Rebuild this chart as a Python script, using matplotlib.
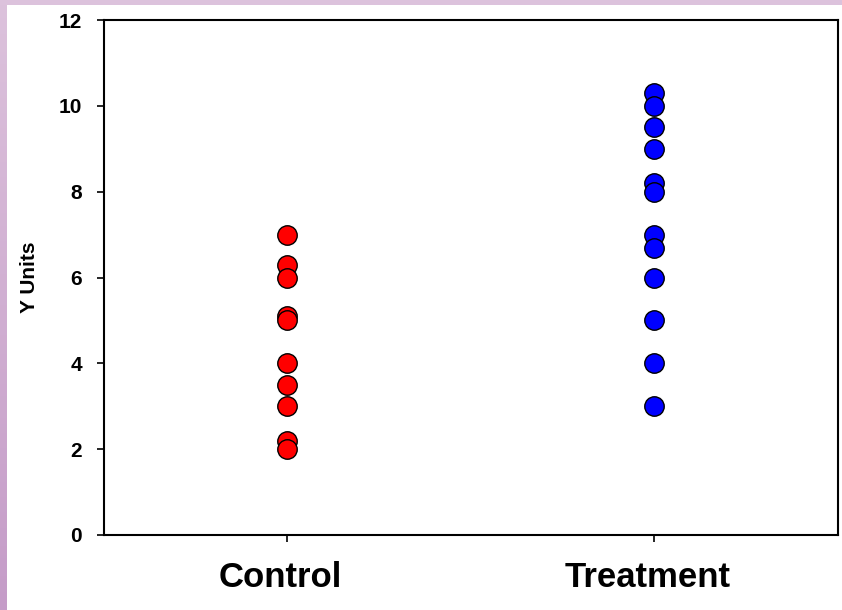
import matplotlib
matplotlib.use("Agg")
import matplotlib.pyplot as plt
import matplotlib.transforms as mtransforms
import numpy as np
from matplotlib.colors import LinearSegmentedColormap

categories = ["Control", "Treatment"]
control_values = [7.0, 6.3, 6.0, 5.1, 5.0, 4.0, 3.5, 3.0, 2.2, 2.0]
treatment_values = [10.3, 10.0, 9.5, 9.0, 8.2, 8.0, 7.0, 6.7, 6.0, 5.0, 4.0, 3.0]
colors = ["#ff0000", "#0000ff"]
yticks = [0, 2, 4, 6, 8, 10, 12]

plt.rcParams['font.family'] = ['Liberation Sans', 'DejaVu Sans']

fig = plt.figure(figsize=(8.42, 6.10), dpi=100)
fig.patch.set_facecolor("white")

# purple frame: left gradient strip and top strip
grad = np.linspace(0, 1, 200).reshape(-1, 1)
cmap = LinearSegmentedColormap.from_list("frame", ["#dcc2dc", "#c59cc8"])
lax = fig.add_axes([0, 0, 0.008, 1])
lax.imshow(grad, aspect="auto", cmap=cmap, origin="upper")
lax.set_axis_off()
tax = fig.add_axes([0, 0.991, 1, 0.009])
tax.set_facecolor("#dcc2dc")
tax.set_xticks([]); tax.set_yticks([])
for s in tax.spines.values():
    s.set_visible(False)

ax = fig.add_axes([0.1235, 0.123, 0.8715, 0.844])
for i, vals in enumerate([control_values, treatment_values]):
    ax.plot([i + 1] * len(vals), vals, linestyle="none", marker="o",
            markersize=14, markerfacecolor=colors[i], markeredgecolor="black",
            markeredgewidth=1.0, clip_on=False, zorder=3)

ax.set_xlim(0.5, 2.5)
ax.set_ylim(0, 12)
ax.set_xticks([1, 2])
ax.set_xticklabels(categories, fontsize=25, fontweight="bold")
ax.set_yticks(yticks)
ax.set_yticklabels([str(t) for t in yticks], fontsize=15, fontweight="bold")
ax.set_ylabel("Y Units", fontsize=15, fontweight="bold", labelpad=14)
ax.tick_params(axis="y", direction="out", length=5, width=1.2, pad=11)
ax.tick_params(axis="x", direction="out", length=5, width=1.2, pad=14)
for s in ax.spines.values():
    s.set_linewidth(1.5)
    s.set_color("black")

shift = mtransforms.ScaledTranslation(-7 / 100, 0, fig.dpi_scale_trans)
for lbl in ax.get_xticklabels():
    lbl.set_transform(lbl.get_transform() + shift)

fig.savefig("out.png", dpi=100)
